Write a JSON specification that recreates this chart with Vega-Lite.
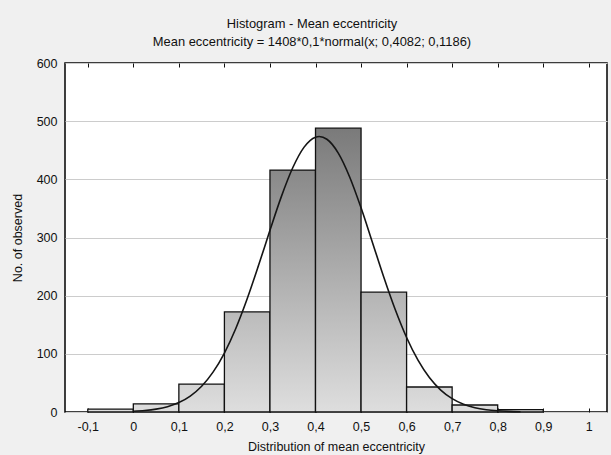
{
  "$schema": "https://vega.github.io/schema/vega-lite/v6.json",
  "width": 542,
  "height": 349,
  "autosize": "none",
  "padding": {"left": 65, "top": 63, "right": 4, "bottom": 43},
  "background": "#f0f0f0",
  "config": {
    "view": {"fill": "white", "stroke": "black", "strokeWidth": 1.5},
    "font": "Liberation Sans"
  },
  "title": {
    "text": "Histogram - Mean eccentricity",
    "subtitle": "Mean eccentricity = 1408*0,1*normal(x; 0,4082; 0,1186)",
    "fontSize": 12.9,
    "fontWeight": "normal",
    "subtitleFontSize": 12.9,
    "color": "#111111",
    "subtitleColor": "#111111",
    "subtitlePadding": 5,
    "offset": 8,
    "anchor": "middle",
    "dx": -24
  },
  "datasets": {
    "bars": [
      {"start": -0.1, "end": 0.0, "count": 5},
      {"start": 0.0, "end": 0.1, "count": 14},
      {"start": 0.1, "end": 0.2, "count": 48},
      {"start": 0.2, "end": 0.3, "count": 172},
      {"start": 0.3, "end": 0.4, "count": 416},
      {"start": 0.4, "end": 0.5, "count": 488},
      {"start": 0.5, "end": 0.6, "count": 206},
      {"start": 0.6, "end": 0.7, "count": 43},
      {"start": 0.7, "end": 0.8, "count": 12},
      {"start": 0.8, "end": 0.9, "count": 4}
    ],
    "curve": [
      {"x": 0.0, "y": 1.27},
      {"x": 0.025, "y": 2.56},
      {"x": 0.05, "y": 4.95},
      {"x": 0.075, "y": 9.15},
      {"x": 0.1, "y": 16.18},
      {"x": 0.125, "y": 27.37},
      {"x": 0.15, "y": 44.28},
      {"x": 0.175, "y": 68.52},
      {"x": 0.2, "y": 101.4},
      {"x": 0.225, "y": 143.6},
      {"x": 0.25, "y": 194.6},
      {"x": 0.275, "y": 252.1},
      {"x": 0.3, "y": 312.4},
      {"x": 0.325, "y": 370.3},
      {"x": 0.35, "y": 419.9},
      {"x": 0.375, "y": 455.4},
      {"x": 0.4, "y": 472.5},
      {"x": 0.4082, "y": 473.6},
      {"x": 0.425, "y": 468.9},
      {"x": 0.45, "y": 445.1},
      {"x": 0.475, "y": 404.1},
      {"x": 0.5, "y": 351.0},
      {"x": 0.525, "y": 291.6},
      {"x": 0.55, "y": 231.7},
      {"x": 0.575, "y": 176.2},
      {"x": 0.6, "y": 128.1},
      {"x": 0.625, "y": 89.1},
      {"x": 0.65, "y": 59.3},
      {"x": 0.675, "y": 37.7},
      {"x": 0.7, "y": 22.96},
      {"x": 0.725, "y": 13.37},
      {"x": 0.75, "y": 7.45},
      {"x": 0.775, "y": 3.97},
      {"x": 0.8, "y": 2.02},
      {"x": 0.825, "y": 0.99},
      {"x": 0.85, "y": 0.46}
    ]
  },
  "resolve": {"axis": {"x": "independent"}},
  "layer": [
    {
      "data": {"name": "bars"},
      "mark": {"type": "bar", "stroke": "#111111", "strokeWidth": 1.3},
      "encoding": {
        "x": {
          "field": "start",
          "type": "quantitative",
          "scale": {"domain": [-0.15, 1.04], "nice": false, "zero": false},
          "axis": {
            "values": [-0.1, 0, 0.1, 0.2, 0.3, 0.4, 0.5, 0.6, 0.7, 0.8, 0.9, 1],
            "labelExpr": "replace(replace(format(datum.value, '.1~f'), '.', ','), '\u2212', '-')",
            "domain": false,
            "grid": false,
            "ticks": true,
            "tickSize": -4,
            "tickColor": "#111111",
            "labelPadding": 12,
            "labelFontSize": 12.5,
            "labelColor": "#111111",
            "title": "Distribution of mean eccentricity",
            "titleFontSize": 12.5,
            "titleFontWeight": "normal",
            "titleColor": "#111111",
            "titlePadding": 8
          }
        },
        "x2": {"field": "end"},
        "y": {
          "field": "count",
          "type": "quantitative",
          "scale": {"domain": [0, 600], "nice": false},
          "axis": {
            "values": [0, 100, 200, 300, 400, 500, 600],
            "domain": false,
            "ticks": false,
            "grid": true,
            "gridColor": "#cccccc",
            "gridWidth": 1.2,
            "labelPadding": 8,
            "labelFontSize": 12.5,
            "labelColor": "#111111",
            "title": "No. of observed",
            "titleFontSize": 12.5,
            "titleFontWeight": "normal",
            "titleColor": "#111111",
            "titlePadding": 12
          }
        },
        "y2": {"datum": 0},
        "fill": {
          "condition": [
            {"test": "datum.count > 450", "value": {"gradient": "linear", "x1": 0, "y1": 0, "x2": 0, "y2": 1, "stops": [{"offset": 0, "color": "#7a7a7a"}, {"offset": 1, "color": "#dedede"}]}},
            {"test": "datum.count > 300", "value": {"gradient": "linear", "x1": 0, "y1": 0, "x2": 0, "y2": 1, "stops": [{"offset": 0, "color": "#898989"}, {"offset": 1, "color": "#dedede"}]}},
            {"test": "datum.count > 190", "value": {"gradient": "linear", "x1": 0, "y1": 0, "x2": 0, "y2": 1, "stops": [{"offset": 0, "color": "#b4b4b4"}, {"offset": 1, "color": "#dedede"}]}},
            {"test": "datum.count > 100", "value": {"gradient": "linear", "x1": 0, "y1": 0, "x2": 0, "y2": 1, "stops": [{"offset": 0, "color": "#bbbbbb"}, {"offset": 1, "color": "#dedede"}]}},
            {"test": "datum.count > 30", "value": {"gradient": "linear", "x1": 0, "y1": 0, "x2": 0, "y2": 1, "stops": [{"offset": 0, "color": "#d4d4d4"}, {"offset": 1, "color": "#dedede"}]}}
          ],
          "value": "#dcdcdc"
        }
      }
    },
    {
      "data": {"name": "curve"},
      "mark": {"type": "line", "color": "#151515", "strokeWidth": 1.6, "interpolate": "monotone"},
      "encoding": {
        "x": {"field": "x", "type": "quantitative", "axis": null},
        "y": {"field": "y", "type": "quantitative"}
      }
    },
    {
      "data": {"name": "bars"},
      "mark": {"type": "point", "opacity": 0},
      "encoding": {
        "x": {
          "field": "start",
          "type": "quantitative",
          "axis": {
            "orient": "top",
            "values": [-0.1, 0, 0.1, 0.2, 0.3, 0.4, 0.5, 0.6, 0.7, 0.8, 0.9, 1],
            "labels": false,
            "domain": false,
            "grid": false,
            "ticks": true,
            "tickSize": -4,
            "tickColor": "#111111",
            "title": null
          }
        },
        "y": {"field": "count", "type": "quantitative"}
      }
    }
  ]
}
